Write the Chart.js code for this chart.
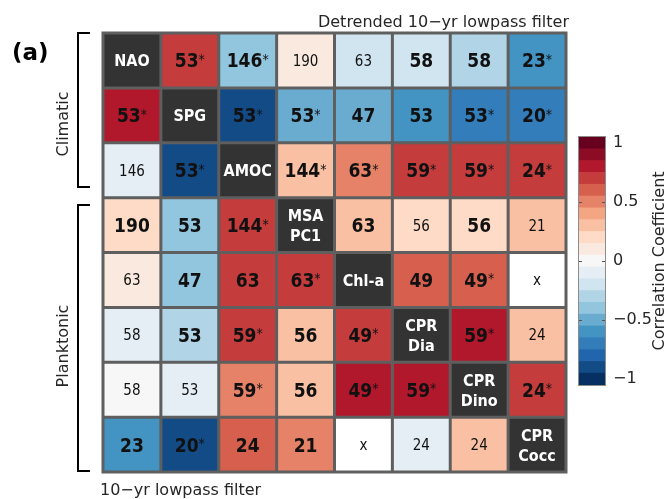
<!DOCTYPE html>
<html>
<head>
<meta charset="utf-8">
<script src="https://cdn.jsdelivr.net/npm/chart.js@4.4.1/dist/chart.umd.min.js"></script>
<style>
  html, body { margin: 0; padding: 0; background: #fff; }
  #wrap { position: relative; width: 672px; height: 499px; }
  #matrix { position: absolute; left: 0; top: 0; }
  #cbar { position: absolute; left: 560px; top: 110px; }
</style>
</head>
<body>
<div id="wrap">
  <canvas id="matrix" width="672" height="499"></canvas>
  <canvas id="cbar" width="112" height="300"></canvas>
</div>
<script>
// variables (rows top->bottom, columns left->right)
const varNames = [['NAO'], ['SPG'], ['AMOC'], ['MSA', 'PC1'], ['Chl-a'], ['CPR', 'Dia'], ['CPR', 'Dino'], ['CPR', 'Cocc']];

// correlation coefficients (upper: detrended, lower: not detrended), null = diagonal / no data
const corr = [
  [null, 0.7, -0.4, 0.1, -0.2, -0.2, -0.3, -0.6],
  [0.8, null, -0.9, -0.5, -0.5, -0.6, -0.7, -0.7],
  [-0.1, -0.9, null, 0.3, 0.5, 0.7, 0.7, 0.7],
  [0.2, -0.4, 0.7, null, 0.3, 0.2, 0.2, 0.3],
  [0.1, -0.4, 0.7, 0.7, null, 0.6, 0.6, null],
  [-0.1, -0.3, 0.7, 0.3, 0.7, null, 0.8, 0.3],
  [0.0, -0.1, 0.5, 0.3, 0.8, 0.8, null, 0.7],
  [-0.6, -0.9, 0.6, 0.5, null, -0.1, 0.3, null]
];

// number of observations
const nObs = [
  [null, 53, 146, 190, 63, 58, 58, 23],
  [53, null, 53, 53, 47, 53, 53, 20],
  [146, 53, null, 144, 63, 59, 59, 24],
  [190, 53, 144, null, 63, 56, 56, 21],
  [63, 47, 63, 63, null, 49, 49, null],
  [58, 53, 59, 56, 49, null, 59, 24],
  [58, 53, 59, 56, 49, 59, null, 24],
  [23, 20, 24, 21, null, 24, 24, null]
];

// 0 = plain, 1 = bold, 2 = bold + asterisk
const sigLevel = [
  [null, 2, 2, 0, 0, 1, 1, 2],
  [2, null, 2, 2, 1, 1, 2, 2],
  [0, 2, null, 2, 2, 2, 2, 2],
  [1, 1, 2, null, 1, 0, 1, 0],
  [0, 1, 1, 2, null, 1, 2, 0],
  [0, 1, 2, 1, 2, null, 2, 0],
  [0, 0, 2, 1, 2, 2, null, 2],
  [1, 2, 1, 1, 0, 0, 0, null]
];

const cbarLevels = [-1, -0.9, -0.8, -0.7, -0.6, -0.5, -0.4, -0.3, -0.2, -0.1, 0, 0.1, 0.2, 0.3, 0.4, 0.5, 0.6, 0.7, 0.8, 0.9, 1];
const cbarTicks = [-1, -0.5, 0, 0.5, 1];

const rdbu = ['#053061', '#134b87', '#2166ac', '#327dba', '#4393c3', '#6aacd0', '#92c5de', '#b1d5e7', '#d1e5f0', '#e4eef4',
  '#f7f7f7', '#fae9df', '#fddbc7', '#f9c0a4', '#f4a582', '#e58267', '#d6604d', '#c43c3c', '#b2182b', '#8c0c25', '#67001f'];

const colorFor = v => v === null ? '#ffffff' : rdbu[Math.round((v + 1) * 10)];

const txt = '#262626';
const condensed = '"DejaVu Sans Condensed", "DejaVu Sans", sans-serif';
const sans = '"DejaVu Sans", sans-serif';
const gapColor = '#5f5f5f';
const n = varNames.length;

const datasets = corr.map((row, r) => ({
  data: row.map(() => [n - 1 - r, n - r]),
  backgroundColor: row.map((v, c) => r === c ? '#333333' : colorFor(v)),
  borderColor: gapColor,
  borderWidth: 1.5,
  borderSkipped: false,
  inflateAmount: 0,
  barPercentage: 1,
  categoryPercentage: 1,
  grouped: false
}));

const framePlugin = {
  id: 'frame',
  beforeDatasetsDraw(chart) {
    const a = chart.chartArea, ctx = chart.ctx;
    ctx.save();
    ctx.fillStyle = gapColor;
    ctx.fillRect(a.left - 1.5, a.top - 1.5, a.right - a.left + 3, a.bottom - a.top + 3);
    ctx.restore();
  }
};

const cellTextPlugin = {
  id: 'cellText',
  afterDatasetsDraw(chart) {
    const ctx = chart.ctx;
    ctx.save();
    ctx.textAlign = 'left';
    ctx.textBaseline = 'alphabetic';
    corr.forEach((row, r) => {
      const meta = chart.getDatasetMeta(r);
      row.forEach((v, c) => {
        const p = meta.data[c].getCenterPoint();
        if (r === c) {
          const lines = varNames[r];
          ctx.fillStyle = '#ffffff';
          ctx.font = 'bold 16px ' + condensed;
          lines.forEach((s, i) => {
            const w = ctx.measureText(s).width;
            const y = p.y + 6 + (i - (lines.length - 1) / 2) * 20;
            ctx.fillText(s, p.x - w / 2, y);
          });
          return;
        }
        ctx.fillStyle = '#111111';
        if (v === null) {
          ctx.font = '15px ' + condensed;
          const w = ctx.measureText('x').width;
          ctx.fillText('x', p.x - w / 2, p.y + 5);
          return;
        }
        const lvl = sigLevel[r][c];
        const s = String(nObs[r][c]);
        if (lvl === 0) {
          ctx.font = '15px ' + condensed;
          const w = ctx.measureText(s).width;
          ctx.fillText(s, p.x - w / 2, p.y + 5.5);
          return;
        }
        ctx.font = 'bold 19px ' + condensed;
        const w = ctx.measureText(s).width;
        let wa = 0;
        if (lvl === 2) {
          ctx.font = '14px ' + condensed;
          wa = ctx.measureText('*').width;
          ctx.font = 'bold 19px ' + condensed;
        }
        const x0 = p.x - (w + wa) / 2;
        ctx.fillText(s, x0, p.y + 7);
        if (lvl === 2) {
          ctx.font = '14px ' + condensed;
          ctx.fillText('*', x0 + w, p.y + 3.5);
        }
      });
    });
    ctx.restore();
  }
};

const annotationPlugin = {
  id: 'annotations',
  afterDraw(chart) {
    const ctx = chart.ctx;
    ctx.save();
    ctx.fillStyle = '#000';
    ctx.font = 'bold 23px ' + sans;
    ctx.fillText('(a)', 12, 60);

    ctx.fillStyle = txt;
    ctx.font = '16px ' + sans;
    ctx.textAlign = 'right';
    ctx.fillText('Detrended 10\u2212yr lowpass filter', 569, 27);
    ctx.textAlign = 'left';
    ctx.fillText('10\u2212yr lowpass filter', 100, 495);

    // group labels
    ctx.textAlign = 'center';
    ctx.save();
    ctx.translate(68, 124);
    ctx.rotate(-Math.PI / 2);
    ctx.fillText('Climatic', 0, 0);
    ctx.restore();
    ctx.save();
    ctx.translate(68, 346);
    ctx.rotate(-Math.PI / 2);
    ctx.fillText('Planktonic', 0, 0);
    ctx.restore();

    // brackets
    ctx.strokeStyle = '#000';
    ctx.lineWidth = 2;
    [[33, 187], [205, 471]].forEach(([y0, y1]) => {
      ctx.beginPath();
      ctx.moveTo(90, y0);
      ctx.lineTo(78, y0);
      ctx.lineTo(78, y1);
      ctx.lineTo(90, y1);
      ctx.stroke();
    });
    ctx.restore();
  }
};

new Chart(document.getElementById('matrix'), {
  type: 'bar',
  data: { labels: varNames.map(s => s.join(' ')), datasets: datasets },
  options: {
    responsive: false,
    animation: false,
    layout: { padding: { left: 103, right: 106, top: 33, bottom: 27 } },
    scales: {
      x: { display: false },
      y: { display: false, min: 0, max: n }
    },
    plugins: { legend: { display: false }, tooltip: { enabled: false } }
  },
  plugins: [framePlugin, cellTextPlugin, annotationPlugin]
});

// colour bar
const cbarPlugin = {
  id: 'cbarDeco',
  afterDatasetsDraw(chart) {
    const a = chart.chartArea, ctx = chart.ctx, ys = chart.scales.y;
    ctx.save();
    ctx.strokeStyle = '#555';
    ctx.lineWidth = 1;
    cbarTicks.slice(1, -1).forEach(t => {
      const y = Math.round(ys.getPixelForValue(t)) + 0.5;
      ctx.beginPath();
      ctx.moveTo(a.left, y); ctx.lineTo(a.left + 3, y);
      ctx.moveTo(a.right - 3, y); ctx.lineTo(a.right, y);
      ctx.stroke();
    });
    ctx.strokeStyle = '#8c8c8c';
    ctx.strokeRect(a.left - 0.5, a.top - 0.5, a.right - a.left + 1, a.bottom - a.top + 1);
    ctx.fillStyle = txt;
    ctx.font = '16px ' + sans;
    ctx.textAlign = 'center';
    ctx.translate(104, (a.top + a.bottom) / 2);
    ctx.rotate(-Math.PI / 2);
    ctx.fillText('Correlation Coefficient', 0, 0);
    ctx.restore();
  }
};

new Chart(document.getElementById('cbar'), {
  type: 'bar',
  data: {
    labels: ['r'],
    datasets: cbarLevels.map((v, i) => ({
      data: [[v - 0.05, v + 0.05]],
      backgroundColor: rdbu[i],
      borderWidth: 0,
      barPercentage: 1,
      categoryPercentage: 1,
      grouped: false
    }))
  },
  options: {
    responsive: false,
    animation: false,
    layout: { padding: { left: 19, right: 0, top: 27, bottom: 25 } },
    scales: {
      x: { display: false },
      y: {
        position: 'right',
        min: -1.05,
        max: 1.05,
        afterBuildTicks: s => { s.ticks = cbarTicks.map(v => ({ value: v })); },
        afterFit: s => { s.width = 67; },
        grid: { display: false, drawTicks: false },
        border: { display: false },
        ticks: {
          padding: 8,
          color: txt,
          font: { family: sans, size: 16 },
          callback: v => String(v).replace('-', '\u2212')
        }
      }
    },
    plugins: { legend: { display: false }, tooltip: { enabled: false } }
  },
  plugins: [cbarPlugin]
});
</script>
</body>
</html>
